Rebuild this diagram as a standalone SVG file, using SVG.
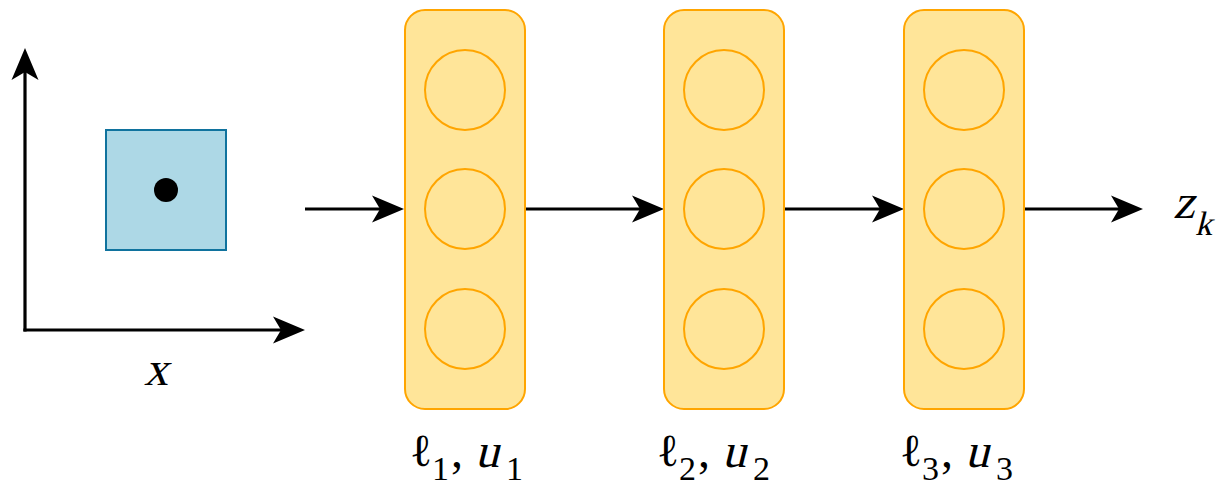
<svg xmlns="http://www.w3.org/2000/svg" width="1220" height="489" viewBox="0 0 1220 489">
  <style>
    .layer { fill: #FFE599; stroke: #FFA500; stroke-width: 2; }
    .unit { fill: none; stroke: #FFA500; stroke-width: 2; }
    .edge { stroke: #000; stroke-width: 3.2; fill: none; marker-end: url(#arrow); }
    .v { font-family: "Liberation Serif", serif; font-size: 48px; fill: #000; }
    .ell { font-family: "DejaVu Serif", serif; font-size: 46px; fill: #000; }
    .sub { font-family: "Liberation Serif", serif; font-size: 34px; fill: #000; }
  </style>
  <defs>
    <marker id="arrow" markerUnits="userSpaceOnUse" markerWidth="34" markerHeight="30" refX="8" refY="15" orient="auto">
      <path d="M0,1.5 L32,15 L0,28.5 L8,15 Z" fill="#000"/>
    </marker>
  </defs>

  <rect width="1220" height="489" fill="#fff"/>

  <!-- input domain: axes with a box and its centre point -->
  <g id="input">
    <line class="edge" x1="25" y1="331.6" x2="25" y2="72"/>
    <line class="edge" x1="23.4" y1="330" x2="281" y2="330"/>
    <rect x="106" y="130" width="120" height="120" fill="#ADD8E6" stroke="#10739E" stroke-width="2"/>
    <circle cx="166" cy="190" r="12" fill="#000"/>
    <text class="v" transform="translate(144,385) skewX(-14)">x</text>
  </g>

  <!-- connectors between layers -->
  <g id="connectors">
    <line class="edge" x1="305" y1="209" x2="380" y2="209"/>
    <line class="edge" x1="525" y1="209" x2="640" y2="209"/>
    <line class="edge" x1="784" y1="209" x2="880" y2="209"/>
    <line class="edge" x1="1024" y1="209" x2="1119" y2="209"/>
  </g>

  <!-- each layer: rounded column of three units, bounds label below -->
  <g id="layer1">
    <rect class="layer" x="405" y="10" width="120" height="399" rx="20"/>
    <circle class="unit" cx="465" cy="90" r="40"/>
    <circle class="unit" cx="465" cy="209" r="40"/>
    <circle class="unit" cx="465" cy="329" r="40"/>
    <text class="ell" x="410" y="466">ℓ</text>
    <text class="sub" x="432" y="480">1</text>
    <text class="v" x="451" y="467">,</text>
    <text class="v" transform="translate(475,467) skewX(-14)">u</text>
    <text class="sub" x="506" y="480">1</text>
  </g>

  <g id="layer2">
    <rect class="layer" x="664" y="10" width="120" height="399" rx="20"/>
    <circle class="unit" cx="724" cy="90" r="40"/>
    <circle class="unit" cx="724" cy="209" r="40"/>
    <circle class="unit" cx="724" cy="329" r="40"/>
    <text class="ell" x="657" y="466">ℓ</text>
    <text class="sub" x="679" y="480">2</text>
    <text class="v" x="698" y="467">,</text>
    <text class="v" transform="translate(722,467) skewX(-14)">u</text>
    <text class="sub" x="753" y="480">2</text>
  </g>

  <g id="layer3">
    <rect class="layer" x="904" y="10" width="120" height="399" rx="20"/>
    <circle class="unit" cx="964" cy="90" r="40"/>
    <circle class="unit" cx="964" cy="209" r="40"/>
    <circle class="unit" cx="964" cy="329" r="40"/>
    <text class="ell" x="900" y="466">ℓ</text>
    <text class="sub" x="922" y="480">3</text>
    <text class="v" x="941" y="467">,</text>
    <text class="v" transform="translate(965,467) skewX(-14)">u</text>
    <text class="sub" x="996" y="480">3</text>
  </g>

  <g id="output">
    <text class="v" transform="translate(1173,218) skewX(-14)">z</text>
    <text class="sub" transform="translate(1195,235) skewX(-14)">k</text>
  </g>
</svg>
